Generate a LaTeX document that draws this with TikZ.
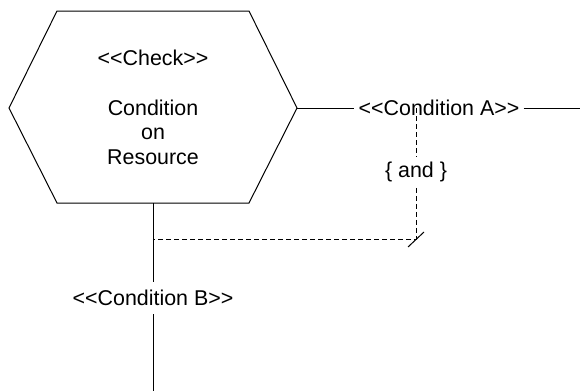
\documentclass[tikz,border=0pt]{standalone}
\usepackage{fontspec}
\setmainfont{Liberation Sans}
\usetikzlibrary{positioning}
\newcommand\stereotype[1]{<\kern0pt<#1>\kern0pt>}
\tikzset{
  labeltext/.style={font=\fontsize{10.7}{12.25}\selectfont, inner sep=2pt},
  flow/.style={line width=0.5pt},
  joinline/.style={line width=0.5pt, dash pattern=on 2.5pt off 1.5pt},
}

\begin{document}
\begin{tikzpicture}[x=0.5pt, y=-0.5pt]
\useasboundingbox (0,0) rectangle (583,391);

% check hexagon
\coordinate (hexL) at (9,108);
\coordinate (hexTL) at (57,11);
\coordinate (hexTR) at (249,11);
\coordinate (hexR) at (297,108);
\coordinate (hexBR) at (249,203);
\coordinate (hexBL) at (57,203);
\coordinate (hexB) at (153,203);
\draw [flow] (hexL) -- (hexTL) -- (hexTR) -- (hexR) -- (hexBR) -- (hexBL) -- cycle;

\node (check) [labeltext] at (153,58) {\stereotype{Check}};
\node (cond) [labeltext, align=center] at (153,132) {Condition\\on\\Resource};

% conditions
\coordinate (endA) at (580,108);
\coordinate (endB) at (153,391);
\node (condA) [labeltext] at (439,108) {\stereotype{Condition A}};
\node (condB) [labeltext, inner ysep=4pt] at (153,298) {\stereotype{Condition B}};

\draw [flow] (hexR) -- (condA);
\draw [flow] (condA) -- (endA);
\draw [flow] (hexB) -- (condB);
\draw [flow] (condB) -- (endB);

% and join
\coordinate (andTop) at (416,108);
\coordinate (andCorner) at (416,239);
\coordinate (andJoin) at (153,239);
\node (andlabel) [labeltext, inner ysep=2.8pt] at (416,172) {\{ and \}};

\draw [joinline] (andTop) -- (andlabel);
\draw [joinline] (andlabel) -- (andCorner) -- (andJoin);
\draw [flow] (andCorner) +(-8,8) -- +(8,-7);

\end{tikzpicture}
\end{document}
